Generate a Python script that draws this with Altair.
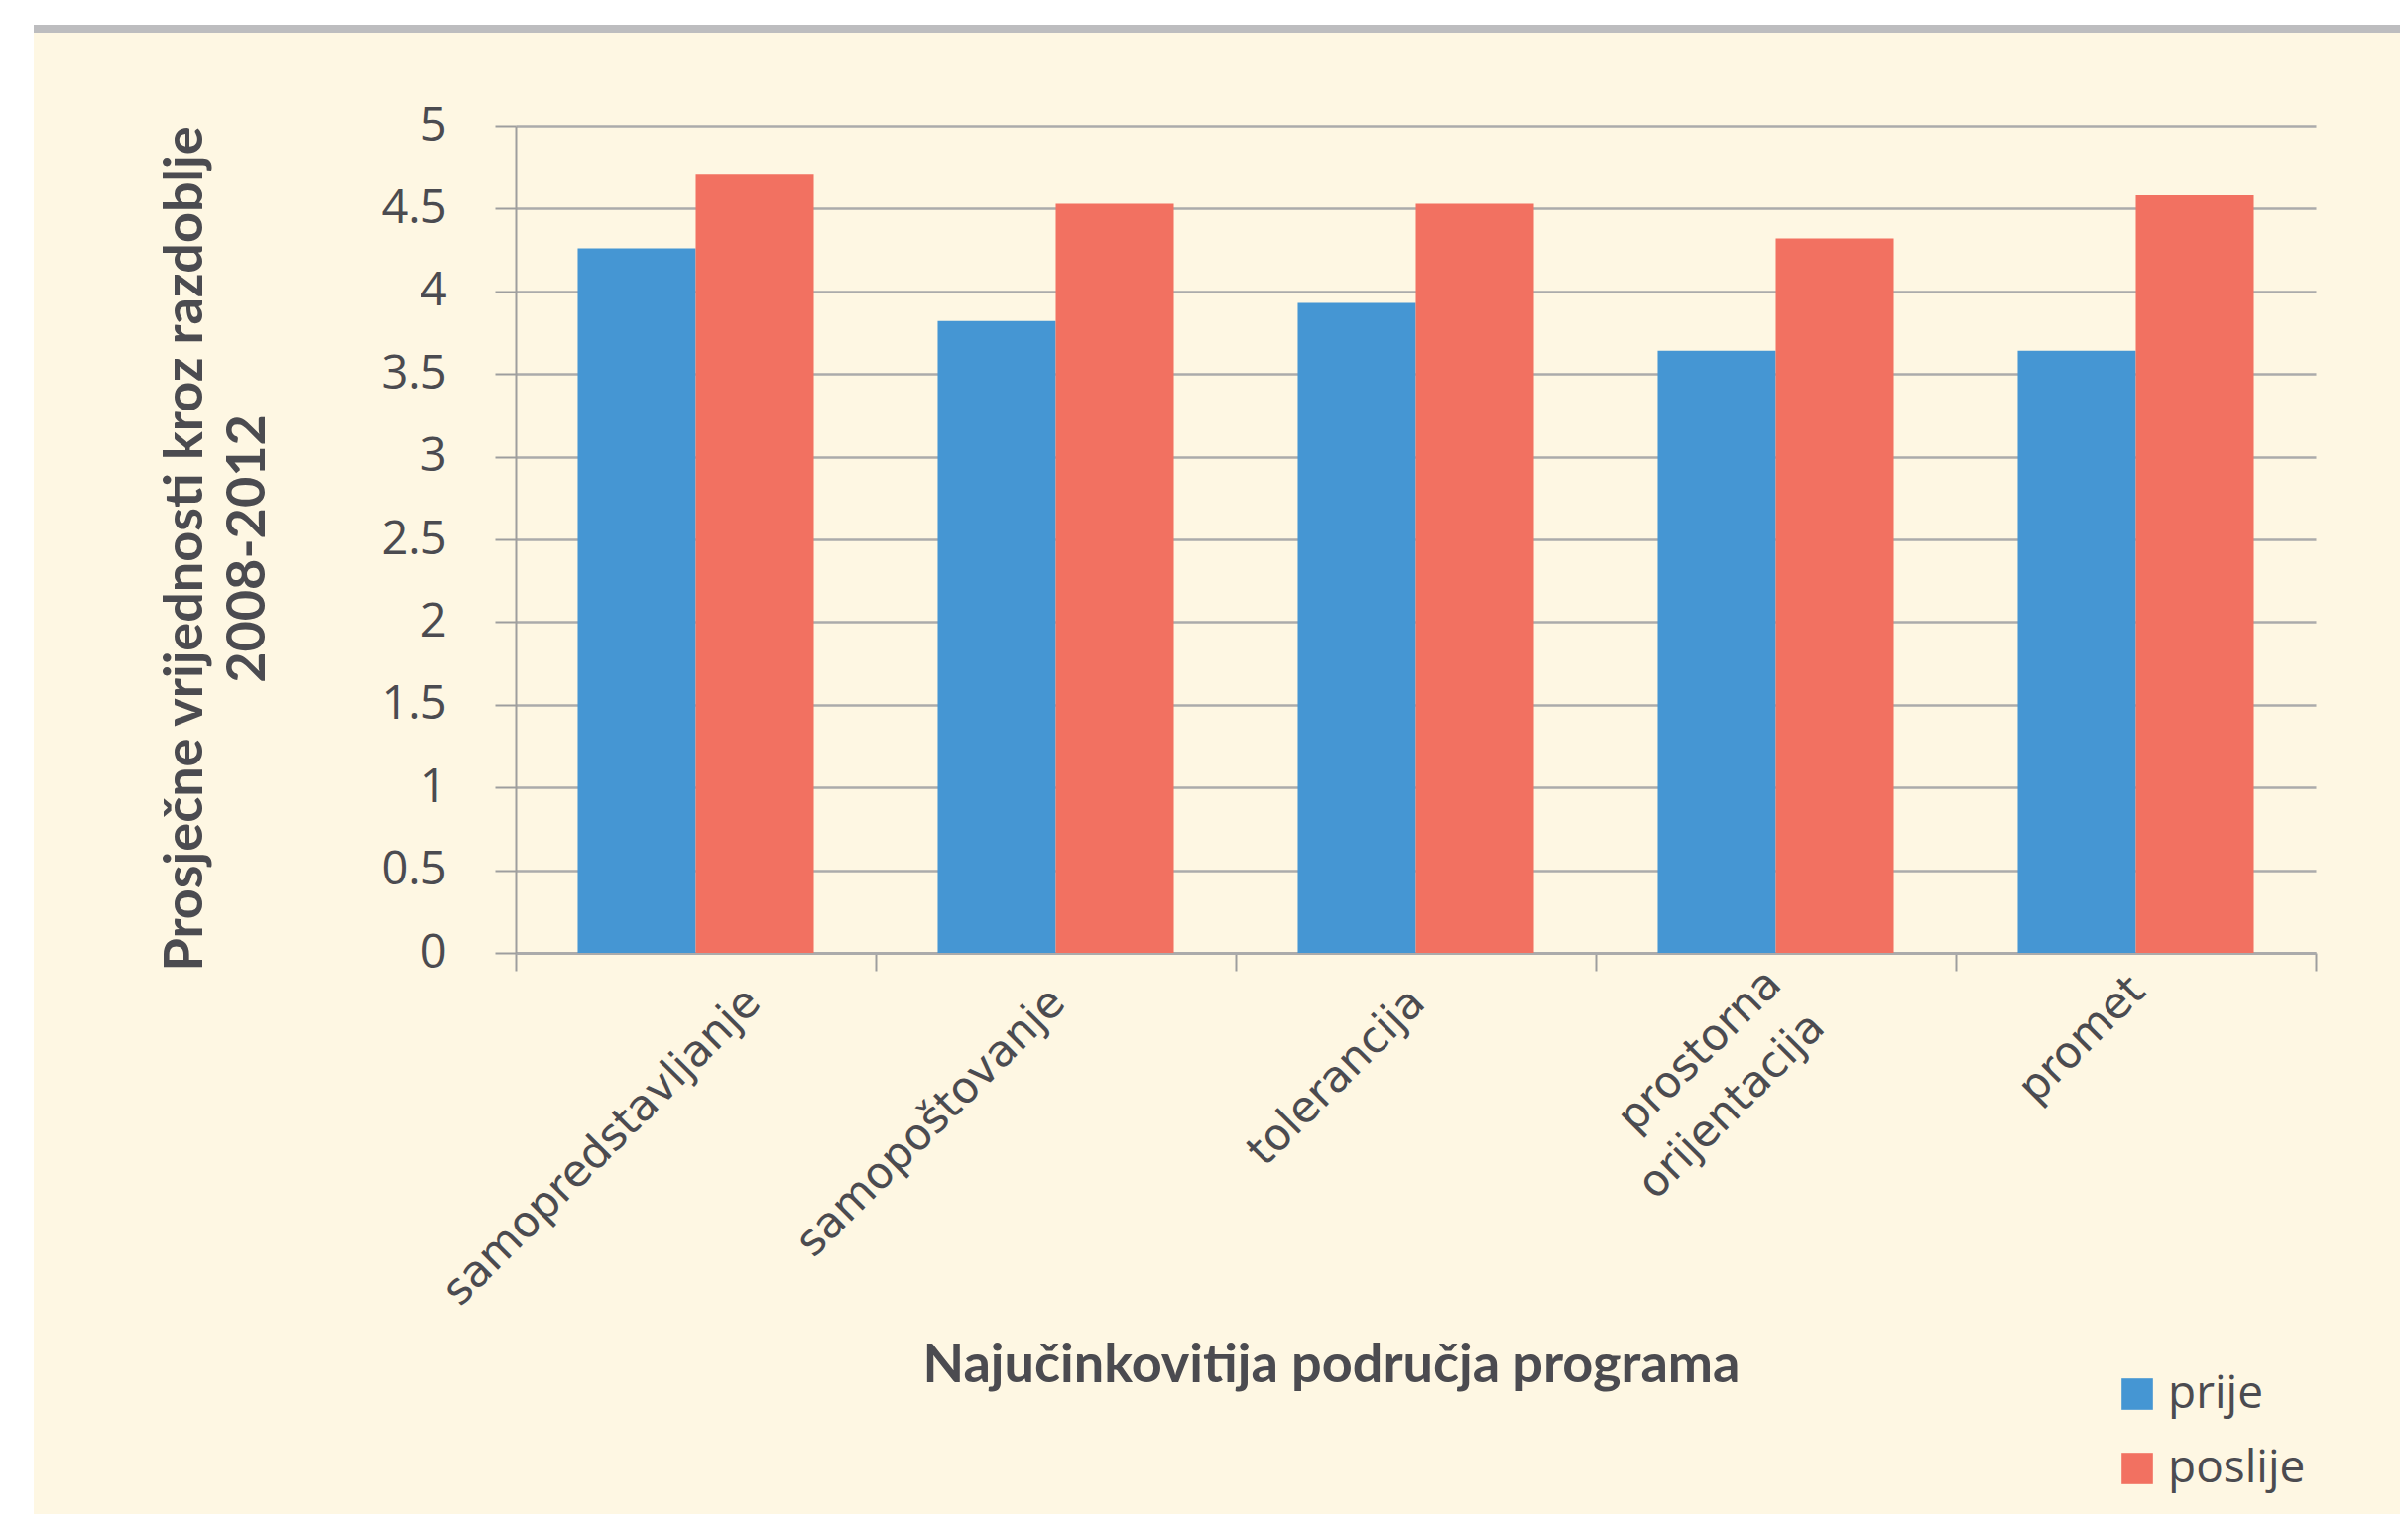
import altair as alt
import pandas as pd

categories = ["samopredstavljanje", "samopoštovanje", "tolerancija", "prostorna orijentacija", "promet"]
series = ["prije", "poslije"]
prije = [4.26, 3.82, 3.93, 3.64, 3.64]
poslije = [4.71, 4.53, 4.53, 4.32, 4.58]
y_ticks = [0, 0.5, 1, 1.5, 2, 2.5, 3, 3.5, 4, 4.5, 5]

rows = []
for c, a, b in zip(categories, prije, poslije):
    rows.append({"category": c, "series": "prije", "value": a})
    rows.append({"category": c, "series": "poslije", "value": b})
df = pd.DataFrame(rows)

BLUE = "#4596D3"
RED = "#F27161"
TEXT = "#4b4b50"
GRID = "#ABABAB"
CREAM = "#FEF7E3"

W, H = 1815, 834

bars = alt.Chart(df).mark_bar().encode(
    x=alt.X(
        "category:N",
        sort=categories,
        scale=alt.Scale(paddingInner=0, paddingOuter=0),
        axis=alt.Axis(
            title="Najučinkovitija područja programa",
            titleFont="Lato",
            titleFontWeight="bold",
            titleFontSize=54,
            titleColor=TEXT,
            titleX=822,
            titleY=416,
            titleAlign="center",
            titleBaseline="middle",
            labelAngle=-45,
            labelAlign="right",
            labelBaseline="middle",
            labelFont="DejaVu Sans",
            labelFontSize=44,
            labelColor=TEXT,
            labelPadding={
                "condition": [
                    {"test": "datum.value === 'promet'", "value": 13},
                    {"test": "datum.value === 'prostorna orijentacija'", "value": 6},
                ],
                "value": 25,
            },
            labelLimit=0,
            labelLineHeight=62,
            labelExpr="split(datum.label, ' ')",
            labelOffset={
                "condition": [
                    {"test": "datum.value === 'samopredstavljanje'", "value": 58},
                    {"test": "datum.value === 'prostorna orijentacija'", "value": -2},
                ],
                "value": 2,
            },
            tickBand="extent",
            ticks=True,
            tickSize=18,
            tickWidth=2,
            tickColor="#9E9E9E",
            domain=True,
            domainColor="#ABABAB",
            domainWidth=3,
            grid=False,
        ),
    ),
    xOffset=alt.XOffset(
        "series:N", sort=series, scale=alt.Scale(paddingInner=0, paddingOuter=0.525)
    ),
    y=alt.Y(
        "value:Q",
        scale=alt.Scale(domain=[0, 5], nice=False, zero=True),
        axis=alt.Axis(
            title=["Prosječne vrijednosti kroz razdoblje", "2008-2012"],
            titleFont="Lato",
            titleFontWeight="bold",
            titleFontSize=54,
            titleColor=TEXT,
            titleLineHeight=63,
            titleAngle=270,
            titleX=-333,
            titleY=426,
            titleAlign="center",
            titleBaseline="middle",
            values=y_ticks,
            format="~g",
            labelFont="Open Sans",
            labelFontSize=47,
            labelColor=TEXT,
            labelPadding=49,
            tickSize=21,
            tickWidth=2,
            tickColor="#9E9E9E",
            domain=True,
            domainColor="#9E9E9E",
            domainWidth=2,
            grid=True,
            gridColor=GRID,
            gridWidth=2.5,
        ),
    ),
    color=alt.Color(
        "series:N",
        sort=series,
        scale=alt.Scale(domain=series, range=[BLUE, RED]),
        legend=alt.Legend(
            title=None,
            orient="none",
            legendX=1612,
            legendY=1256,
            symbolType="square",
            symbolSize=1000,
            symbolStrokeWidth=0,
            symbolOpacity=1,
            labelFont="Open Sans",
            labelFontSize=46,
            labelColor=TEXT,
            labelOffset=8,
            rowPadding=29,
            padding=0,
        ),
    ),
)

deco_df = pd.DataFrame({"k": [0]})
left_strip = alt.Chart(deco_df).mark_rect(color="white").encode(
    x=alt.value(-530), x2=alt.value(-486), y=alt.value(-140), y2=alt.value(1600)
)
top_strip = alt.Chart(deco_df).mark_rect(color="white").encode(
    x=alt.value(-530), x2=alt.value(2000), y=alt.value(-140), y2=alt.value(-102)
)
gray_band = alt.Chart(deco_df).mark_rect(color="#BDBDBF").encode(
    x=alt.value(-486), x2=alt.value(2000), y=alt.value(-102), y2=alt.value(-94)
)

chart = alt.layer(left_strip, top_strip, gray_band, bars).properties(
    width=W,
    height=H,
    autosize=alt.AutoSizeParams(type="none"),
    padding={"left": 512, "top": 119, "right": 85, "bottom": 566},
    background=CREAM,
).configure_view(stroke=None)

chart.save("out.html", embed_options={"renderer": "svg", "actions": False})
